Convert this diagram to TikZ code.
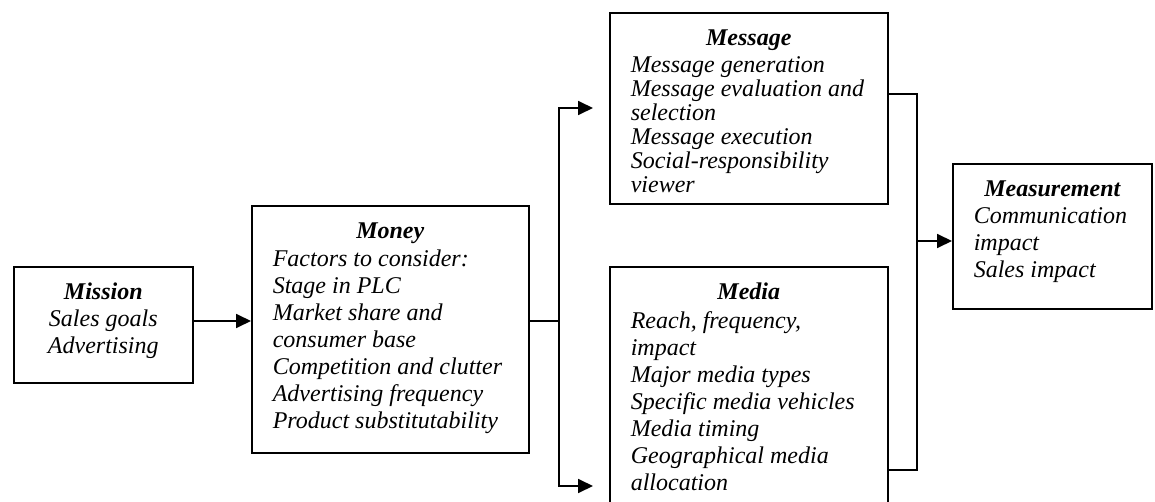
\documentclass[tikz,border=0pt]{standalone}
\usepackage{fontspec}
\setmainfont{Liberation Serif}
\usetikzlibrary{arrows.meta}
% #1 width, #2 height, #3 baselineskip, #4 title, #5 body, #6 extra space after title
\newcommand{\boxtxt}[6]{\parbox[c][#2][t]{#1}{\parskip=0pt\parindent=0pt
  \fontsize{12}{#3}\selectfont\itshape
  \centering\rule{0pt}{16.5pt}\textbf{#4}\par\vspace{#6}
  \raggedright\leftskip=10.5pt\relax #5\par}}
\begin{document}
\begin{tikzpicture}[x=0.5pt,y=-0.5pt,
  panel/.style={draw,line width=0.8pt,inner sep=0pt,anchor=north west},
  conn/.style={line width=0.9pt},
  arr/.style={conn,-{Triangle[length=7.5pt,width=7pt]}}]
\clip (0,0) rectangle (1155,502);
\fill[white] (0,0) rectangle (1155,502);

\node[panel] (mission) at (13,266) {\boxtxt{89.5pt}{58pt}{13.5pt}{Mission}{\centering Sales goals\\Advertising}{0pt}};
\node[panel] (money) at (251,205) {\boxtxt{138.5pt}{123.5pt}{13.5pt}{Money}{Factors to consider:\\Stage in PLC\\Market share and\\consumer base\\Competition and clutter\\Advertising frequency\\Product substitutability}{0.5pt}};
\node[panel] (message) at (609,12) {\boxtxt{139pt}{95.5pt}{12pt}{Message}{Message generation\\Message evaluation and\\selection\\Message execution\\Social-responsibility\\viewer}{1.5pt}};
\node[panel] (media) at (609,266) {\boxtxt{139pt}{122pt}{13.5pt}{Media}{Reach, frequency,\\impact\\Major media types\\Specific media vehicles\\Media timing\\Geographical media\\allocation}{1pt}};
\node[panel] (measure) at (952,163) {\boxtxt{99.5pt}{72.5pt}{13.5pt}{Measurement}{Communication\\impact\\Sales impact}{0pt}};

% left connectors
\coordinate (moneyout) at (528,321);
\coordinate (split) at (559,321);
\coordinate (msgin) at (593,108);
\coordinate (medin) at (593,486);
\draw[arr] (mission.east |- moneyout) -- (money.west |- moneyout);
\draw[conn] (moneyout) -- (split);
\draw[arr] (split) |- (msgin);
\draw[arr] (split) |- (medin);

% right connectors
\coordinate (msgout) at (887,94);
\coordinate (medout) at (887,470);
\coordinate (bartop) at (917,94);
\coordinate (barbot) at (917,470);
\coordinate (join) at (917,241);
\draw[conn] (msgout) -- (bartop) -- (barbot) -- (medout);
\draw[arr] (join) -- (join -| measure.west);
\end{tikzpicture}
\end{document}
